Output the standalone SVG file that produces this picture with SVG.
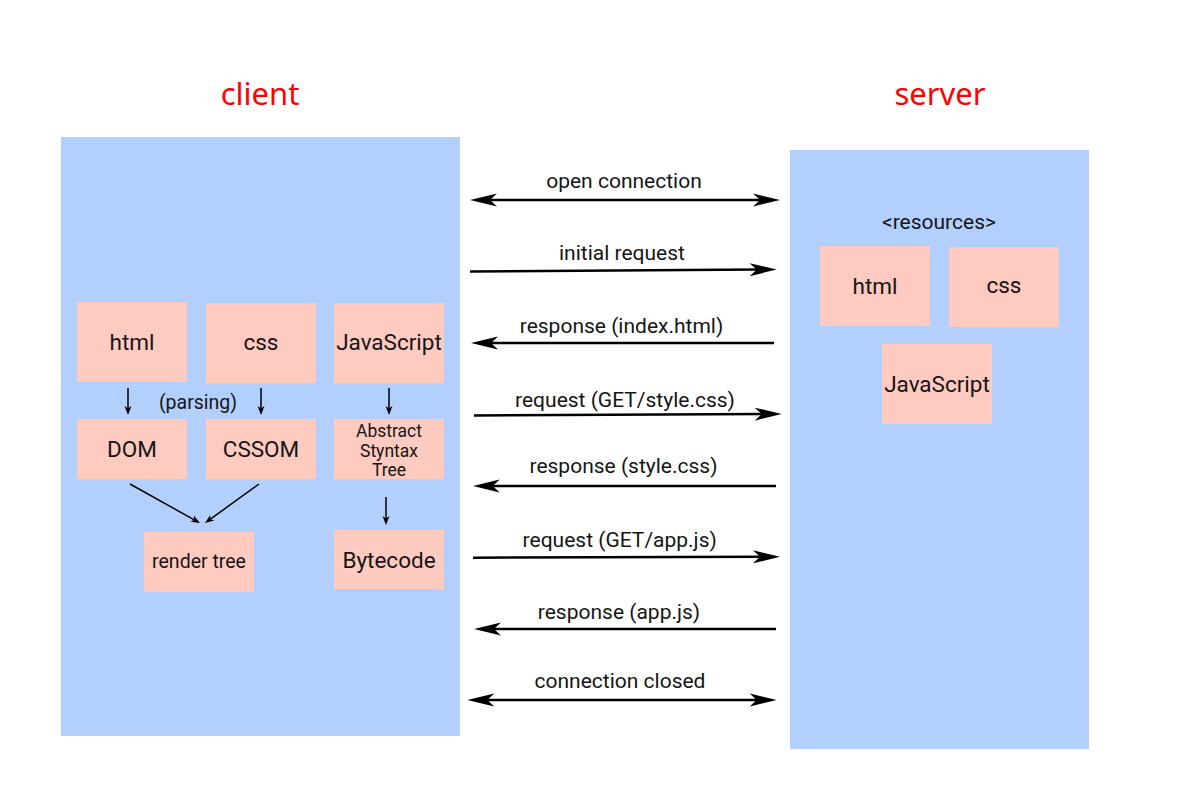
<svg xmlns="http://www.w3.org/2000/svg" width="1200" height="800" viewBox="0 0 1200 800">
<defs>
<style>
.panel{fill:#b3cffd}
.box{fill:#ffcac0}
.title{font-family:"Noto Sans","Open Sans",sans-serif;font-size:31px;fill:#ff0000;text-anchor:middle}
.lbl{font-family:Roboto,"Liberation Sans",sans-serif;font-size:22.5px;fill:#151515;text-anchor:middle}
.sm{font-family:Roboto,"Liberation Sans",sans-serif;font-size:19.5px;fill:#151515;text-anchor:middle}
.ast{font-family:Roboto,"Liberation Sans",sans-serif;font-size:17.5px;fill:#151515;text-anchor:middle}
.msg{font-family:Roboto,"Liberation Sans",sans-serif;font-size:21px;fill:#151515;text-anchor:middle}
.big{stroke:#000;stroke-width:2.5;fill:none}
.thin{stroke:#000;stroke-width:1.5;fill:none}
</style>
<marker id="ah" viewBox="-28 -7 28 14" refX="-18" refY="0" markerWidth="28" markerHeight="14" markerUnits="userSpaceOnUse" orient="auto-start-reverse">
<path d="M0,0 L-27,-6.5 L-20,0 L-27,6.5 Z" fill="#000"/>
</marker>
<marker id="as" viewBox="-10 -4 10 8" refX="-5" refY="0" markerWidth="10" markerHeight="8" markerUnits="userSpaceOnUse" orient="auto">
<path d="M0,0 L-9,-3.5 L-6.5,0 L-9,3.5 Z" fill="#000"/>
</marker>
</defs>
<rect width="1200" height="800" fill="#ffffff"/>

<g id="client">
<rect class="panel" x="61" y="137" width="399" height="599"/>
<text class="title" x="260" y="105">client</text>
</g>
<g id="server">
<rect class="panel" x="790" y="150" width="299" height="599"/>
<text class="title" x="940" y="105">server</text>
<text class="msg" x="939" y="229">&lt;resources&gt;</text>
</g>

<g id="c-html"><rect class="box" x="77" y="302" width="110" height="80"/><text class="lbl" x="132" y="350">html</text></g>
<g id="c-css"><rect class="box" x="206" y="303" width="110" height="80"/><text class="lbl" x="261" y="350">css</text></g>
<g id="c-js"><rect class="box" x="334" y="303" width="110" height="80"/><text class="lbl" x="389" y="350">JavaScript</text></g>
<g id="c-dom"><rect class="box" x="77" y="419" width="110" height="60"/><text class="lbl" x="132" y="457">DOM</text></g>
<g id="c-cssom"><rect class="box" x="206" y="419" width="110" height="60"/><text class="lbl" x="261" y="457">CSSOM</text></g>
<g id="c-ast"><rect class="box" x="334" y="419" width="110" height="60"/>
<text class="ast" x="389" y="437">Abstract</text>
<text class="ast" x="389" y="456.5">Styntax</text>
<text class="ast" x="389" y="476">Tree</text></g>
<g id="c-render"><rect class="box" x="144" y="532" width="110" height="60"/><text class="sm" x="199" y="568">render tree</text></g>
<g id="c-bytecode"><rect class="box" x="334" y="530" width="110" height="59"/><text class="lbl" x="389" y="568">Bytecode</text></g>
<g id="parsing"><text class="sm" x="198" y="409">(parsing)</text></g>

<g id="s-html"><rect class="box" x="820" y="246" width="110" height="80"/><text class="lbl" x="875" y="294">html</text></g>
<g id="s-css"><rect class="box" x="949" y="247" width="110" height="80"/><text class="lbl" x="1004" y="293">css</text></g>
<g id="s-js"><rect class="box" x="882" y="344" width="110" height="80"/><text class="lbl" x="937" y="392">JavaScript</text></g>

<g id="connectors">
<line class="thin" x1="128" y1="388" x2="128" y2="410" marker-end="url(#as)"/>
<line class="thin" x1="261" y1="388" x2="261" y2="410" marker-end="url(#as)"/>
<line class="thin" x1="389" y1="388" x2="389" y2="410" marker-end="url(#as)"/>
<line class="thin" x1="386" y1="497" x2="386" y2="520" marker-end="url(#as)"/>
<line class="thin" x1="130" y1="484" x2="195.6" y2="520.6" marker-end="url(#as)"/>
<line class="thin" x1="259" y1="484" x2="209.05" y2="520.07" marker-end="url(#as)"/>

<line class="big" x1="488" y1="200" x2="762" y2="200" marker-start="url(#ah)" marker-end="url(#ah)"/>
<line class="big" x1="470" y1="271.5" x2="758.7" y2="269.6" marker-end="url(#ah)"/>
<line class="big" x1="774" y1="343" x2="489" y2="343" marker-end="url(#ah)"/>
<line class="big" x1="474" y1="415.5" x2="763.7" y2="414.1" marker-end="url(#ah)"/>
<line class="big" x1="776" y1="486" x2="490.7" y2="486" marker-end="url(#ah)"/>
<line class="big" x1="473" y1="557.7" x2="762" y2="556.8" marker-end="url(#ah)"/>
<line class="big" x1="776" y1="629" x2="492" y2="629" marker-end="url(#ah)"/>
<line class="big" x1="485.3" y1="700" x2="758.7" y2="700" marker-start="url(#ah)" marker-end="url(#ah)"/>

<text class="msg" x="624" y="188">open connection</text>
<text class="msg" x="622" y="260">initial request</text>
<text class="msg" x="621.5" y="333">response (index.html)</text>
<text class="msg" x="625" y="407">request (GET/style.css)</text>
<text class="msg" x="623.5" y="473">response (style.css)</text>
<text class="msg" x="619.7" y="547">request (GET/app.js)</text>
<text class="msg" x="619" y="619">response (app.js)</text>
<text class="msg" x="620" y="688">connection closed</text>
</g>
</svg>
